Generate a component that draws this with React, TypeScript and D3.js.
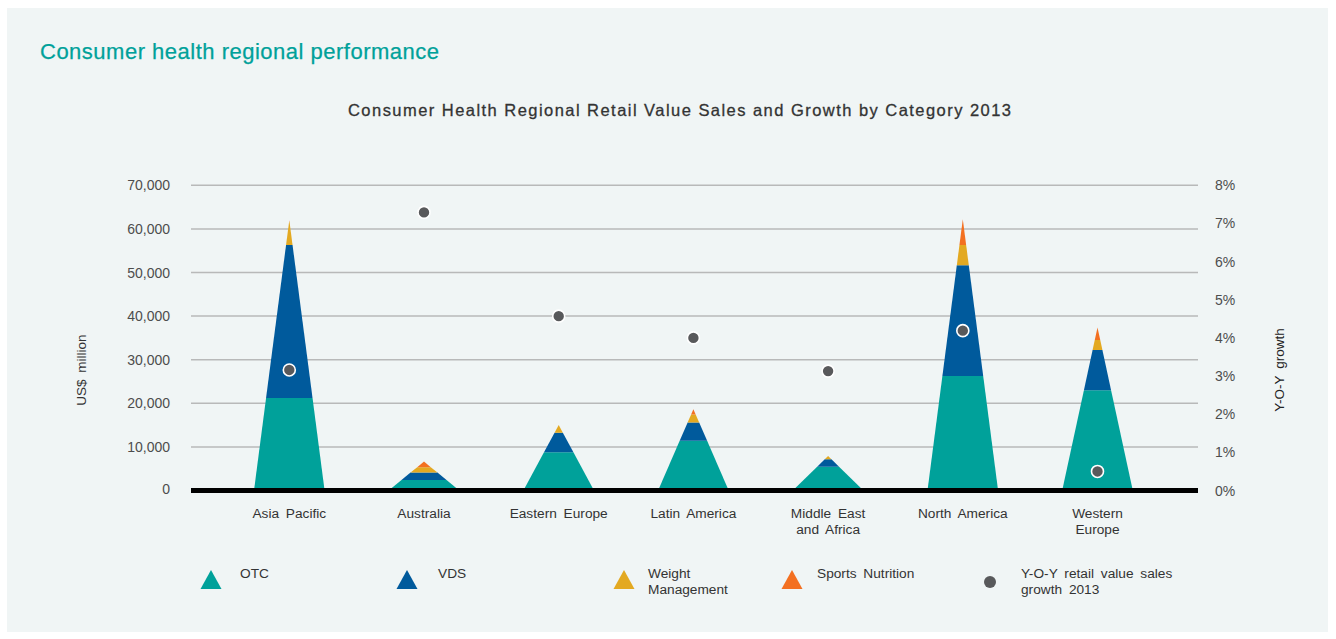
import React from "react";
import * as d3 from "d3";

const categories = [
  ["Asia Pacific"],
  ["Australia"],
  ["Eastern Europe"],
  ["Latin America"],
  ["Middle East", "and Africa"],
  ["North America"],
  ["Western", "Europe"],
];
const otc = [21200, 2400, 8760, 11400, 5450, 26250, 23000];
const vds = [35100, 1700, 4500, 4200, 1700, 25400, 9200];
const weightMgmt = [5300, 1250, 1760, 1850, 750, 4650, 2300];
const sportsNutrition = [400, 1280, 0, 1200, 0, 5900, 2900];
const growth = [3.16, 7.29, 4.57, 4.0, 3.13, 4.19, 0.5];
const leftTicks = [0, 10000, 20000, 30000, 40000, 50000, 60000, 70000];
const rightTicks = [0, 1, 2, 3, 4, 5, 6, 7, 8];

const seriesNames = ["OTC", "VDS", "Weight Management", "Sports Nutrition"];
const colors = ["#00a19a", "#005a9c", "#e3a921", "#f37021"];
const dotColor = "#58595b";

const W = 1336;
const H = 639;
const FONT = "'Liberation Sans', Arial, Helvetica, sans-serif";

export default function App() {
  const plotLeft = 191;
  const plotRight = 1198;
  const y = d3.scaleLinear().domain([0, 70000]).range([490.5, 185.3]);
  const y2 = d3.scaleLinear().domain([0, 8]).range([490.5, 185.3]);
  const keys = categories.map((c) => c.join(" "));
  const x = d3.scalePoint<string>().domain(keys).range([289.3, 1097.5]).padding(0);
  const halfW = 35.3;
  const series = [otc, vds, weightMgmt, sportsNutrition];

  const layers: { d: string; color: string; key: string }[] = [];
  keys.forEach((k, i) => {
    const total = series.reduce((s, arr) => s + arr[i], 0);
    const cx = x(k) as number;
    let cum = 0;
    series.forEach((arr, si) => {
      const v = arr[i];
      if (v <= 0) return;
      const c0 = cum;
      const c1 = cum + v;
      cum = c1;
      const w0 = halfW * (1 - c0 / total);
      const w1 = halfW * (1 - c1 / total);
      const pts: [number, number][] = [
        [cx - w0, y(c0)],
        [cx + w0, y(c0)],
        [cx + w1, y(c1)],
        [cx - w1, y(c1)],
      ];
      const d = (d3.line()(pts) || "") + "Z";
      layers.push({ d, color: colors[si], key: `${k}-${si}` });
    });
  });

  const legendItems = [
    { cx: 211, tx: 240, lines: ["OTC"], color: colors[0], type: "tri" },
    { cx: 407, tx: 438, lines: ["VDS"], color: colors[1], type: "tri" },
    { cx: 624, tx: 648, lines: ["Weight", "Management"], color: colors[2], type: "tri" },
    { cx: 792, tx: 817, lines: ["Sports Nutrition"], color: colors[3], type: "tri" },
    { cx: 990, tx: 1021, lines: ["Y-O-Y retail value sales", "growth 2013"], color: dotColor, type: "dot" },
  ];

  return (
    <svg
      width={W}
      height={H}
      style={{ position: "absolute", left: 0, top: 0, display: "block" }}
      fontFamily={FONT}
    >
      <rect x={0} y={0} width={W} height={H} fill="#ffffff" />
      <rect x={7} y={8} width={1321} height={624} fill="#f0f5f5" />

      <text x={40} y={59} fontSize={22} fill="#00a19a" stroke="#00a19a" strokeWidth={0.25} textLength={399} lengthAdjust="spacing">
        Consumer health regional performance
      </text>
      <text x={348} y={116} fontSize={16.5} fill="#333333" stroke="#333333" strokeWidth={0.3} textLength={663} lengthAdjust="spacing">
        Consumer Health Regional Retail Value Sales and Growth by Category 2013
      </text>

      {leftTicks.map((t) =>
        t === 0 ? null : (
          <line key={"g" + t} x1={plotLeft} x2={plotRight} y1={y(t)} y2={y(t)} stroke="#b8b9b9" strokeWidth={1.5} />
        )
      )}
      {leftTicks.map((t) => (
        <text key={"l" + t} x={170} y={t === 0 ? y(t) - 1.5 : y(t)} dy="0.36em" fontSize={14} fill="#4d4d4d" textAnchor="end">
          {d3.format(",")(t)}
        </text>
      ))}
      {rightTicks.map((t) => (
        <text key={"r" + t} x={1215} y={y2(t)} dy="0.36em" fontSize={14} fill="#4d4d4d">
          {t + "%"}
        </text>
      ))}
      <text
        transform={`translate(86,370) rotate(-90)`}
        fontSize={13.5}
        fill="#333333"
        textAnchor="middle"
        wordSpacing={3}
      >
        US$ million
      </text>
      <text
        transform={`translate(1284,370) rotate(-90)`}
        fontSize={13.5}
        fill="#222222"
        textAnchor="middle"
        wordSpacing={3}
      >
        Y-O-Y growth
      </text>

      {layers.map((l) => (
        <path key={l.key} d={l.d} fill={l.color} />
      ))}

      <rect x={plotLeft} y={488} width={plotRight - plotLeft} height={5} fill="#000000" />

      {keys.map((k, i) => (
        <circle
          key={"dot" + k}
          cx={x(k) as number}
          cy={y2(growth[i])}
          r={6}
          fill={dotColor}
          stroke="#ffffff"
          strokeWidth={1.6}
        />
      ))}

      {categories.map((lines, i) => (
        <text key={"c" + i} x={x(keys[i]) as number} y={518} fontSize={13.7} fill="#333333" textAnchor="middle" wordSpacing={3}>
          {lines.map((ln, j) => (
            <tspan key={j} x={x(keys[i]) as number} dy={j === 0 ? 0 : 16}>
              {ln}
            </tspan>
          ))}
        </text>
      ))}

      {legendItems.map((it, i) => (
        <g key={"lg" + i}>
          {it.type === "tri" ? (
            <path
              d={`M${it.cx - 10.5},589L${it.cx + 10.5},589L${it.cx},570Z`}
              fill={it.color}
            />
          ) : (
            <circle cx={it.cx} cy={582} r={6} fill={it.color} />
          )}
          <text x={it.tx} y={578} fontSize={13.7} fill="#333333" wordSpacing={3}>
            {it.lines.map((ln, j) => (
              <tspan key={j} x={it.tx} dy={j === 0 ? 0 : 16}>
                {ln}
              </tspan>
            ))}
          </text>
        </g>
      ))}
    </svg>
  );
}
